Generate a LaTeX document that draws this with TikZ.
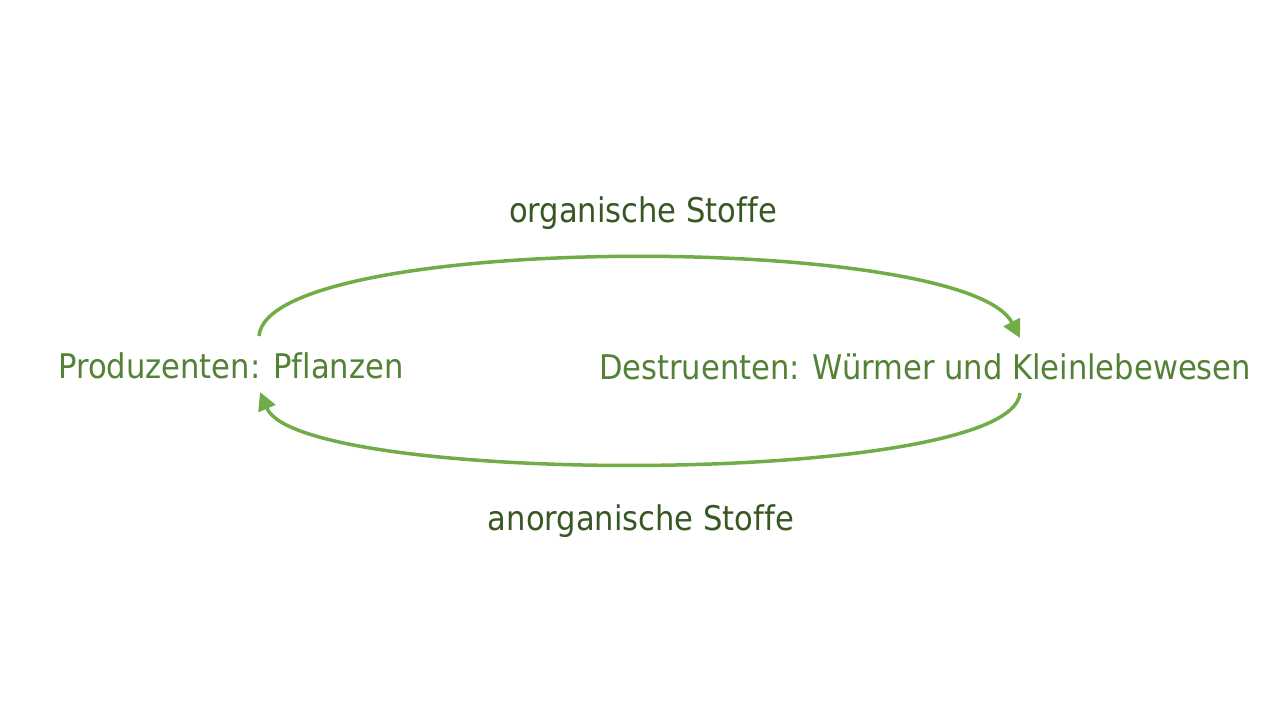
\documentclass[tikz,border=0pt]{standalone}
\usepackage{fontspec}
\setmainfont[Ligatures=NoCommon]{DejaVu Sans Condensed}
\usetikzlibrary{arrows.meta}
\definecolor{nodegreen}{HTML}{538135}
\definecolor{labelgreen}{HTML}{385723}
\definecolor{arrowgreen}{HTML}{70AD47}
\tikzset{
  mainlabel/.style={text=nodegreen, font=\fontsize{34}{40}\selectfont, inner sep=0pt},
  flowlabel/.style={text=labelgreen, font=\fontsize{34}{40}\selectfont, inner sep=0pt},
  flow/.style={draw=arrowgreen, line width=3.5pt, -{Triangle[length=18pt,width=18pt]}}
}
\begin{document}
\begin{tikzpicture}[x=1pt,y=-1pt]
\useasboundingbox (0,0) rectangle (1280,720);
\node[mainlabel] (P) at (231,366) {Produzenten: Pflanzen};
\node[mainlabel] (D) at (925,367) {Destruenten: Würmer und Kleinlebewesen};
\node[flowlabel] (O) at (643,213) {organische Stoffe};
\node[flowlabel] (A) at (641,521) {anorganische Stoffe};
\coordinate (ps) at (259,336);
\coordinate (de) at (1020,338);
\coordinate (ds) at (1020,393);
\coordinate (pe) at (260,392);
\draw[flow] (ps) .. controls (268,232) and (965,232) .. (de);
\draw[flow] (ds) .. controls (1012,487) and (300,487) .. (pe);
\end{tikzpicture}
\end{document}
